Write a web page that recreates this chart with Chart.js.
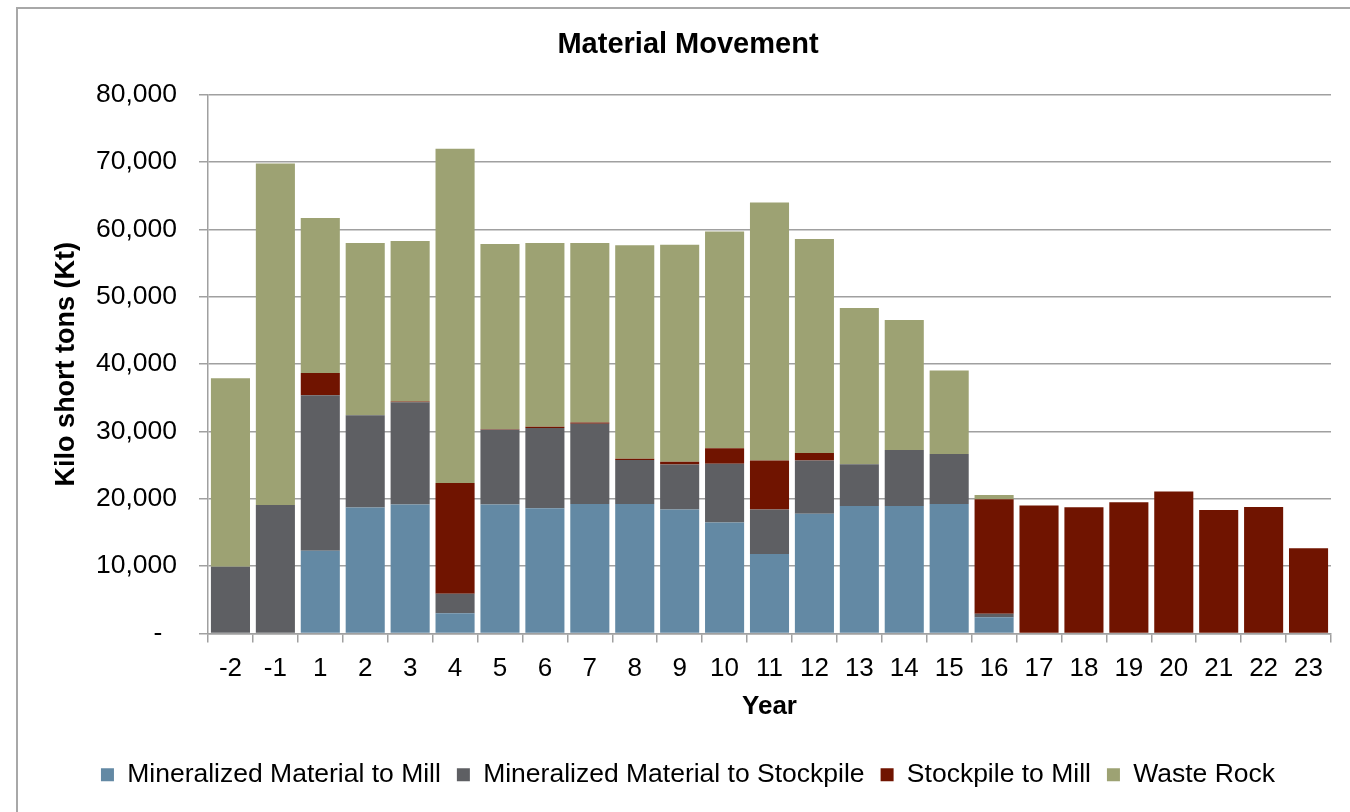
<!DOCTYPE html>
<html>
<head>
<meta charset="utf-8">
<title>Material Movement</title>
<script src="https://cdn.jsdelivr.net/npm/chart.js@4"></script>
<style>
  html, body { margin: 0; padding: 0; background: #fff; overflow: hidden; }
  #frame {
    position: absolute; left: 16px; top: 7px;
    width: 1400px; height: 900px;
    border-top: 2px solid #a8a8a8; border-left: 2px solid #a8a8a8;
  }
  #chart { position: absolute; left: 16px; top: 7px; }
</style>
</head>
<body>
<div id="frame"></div>
<canvas id="chart" width="1344" height="805"></canvas>
<script>
// Year labels along the bottom axis
const years = ['-2', '-1', '1', '2', '3', '4', '5', '6', '7', '8', '9', '10', '11', '12',
               '13', '14', '15', '16', '17', '18', '19', '20', '21', '22', '23'];

// Tonnages per year, kilo short tons
const millFeed = [0, 0, 12300, 18700, 19150, 3000, 19150, 18600, 19250, 19250, 18400, 16500,
                  11800, 17800, 18950, 18950, 19250, 2400, 0, 0, 0, 0, 0, 0, 0];
const toStockpile = [9900, 19100, 23100, 13700, 15200, 2900, 11100, 11900, 11900, 6500, 6700, 8700,
                     6600, 7900, 6200, 8300, 7400, 550, 0, 0, 0, 0, 0, 0, 0];
const stockpileToMill = [0, 0, 3300, 0, 100, 16450, 100, 200, 200, 200, 400, 2300,
                         7300, 1100, 0, 0, 0, 17000, 19000, 18750, 19500, 21100, 18350, 18800, 12650];
const wasteRock = [28000, 50700, 23000, 25600, 23850, 49650, 27500, 27300, 26650, 31700, 32250, 32200,
                   38300, 31800, 23200, 19300, 12400, 600, 0, 0, 0, 0, 0, 0, 0];

const yMin = 0;
const yMax = 80000;
const yStep = 10000;

const FONT = "'Liberation Sans', Arial, sans-serif";
const gridGrey = '#a0a0a0';

function series(label, data, color) {
    return {
        label: label,
        data: data,
        backgroundColor: color,
        borderWidth: 0,
        barPercentage: 0.87,
        categoryPercentage: 1.0
    };
}

const ctx = document.getElementById('chart').getContext('2d');
new Chart(ctx, {
    type: 'bar',
    data: {
        labels: years,
        datasets: [
            series('Mineralized Material to Mill', millFeed, '#6389a4'),
            series('Mineralized Material to Stockpile', toStockpile, '#5e5f63'),
            series('Stockpile to Mill', stockpileToMill, '#701400'),
            series('Waste Rock', wasteRock, '#9da273')
        ]
    },
    options: {
        responsive: false,
        devicePixelRatio: 1,
        animation: false,
        events: [],
        layout: { padding: { left: 29, right: 29, top: 0, bottom: 14 } },
        plugins: {
            title: {
                display: true,
                text: 'Material Movement',
                color: '#000',
                font: { family: FONT, size: 29, weight: 'bold' },
                padding: { top: 21, bottom: 32 }
            },
            legend: {
                position: 'bottom',
                labels: {
                    color: '#000',
                    font: { family: FONT, size: 26.5 },
                    boxWidth: 13,
                    boxHeight: 13,
                    padding: 16
                }
            },
            tooltip: { enabled: false }
        },
        scales: {
            x: {
                stacked: true,
                grid: {
                    offset: true,
                    drawOnChartArea: false,
                    drawTicks: true,
                    tickLength: 9,
                    color: gridGrey,
                    lineWidth: 1.5
                },
                border: { color: gridGrey, width: 1.5 },
                ticks: {
                    color: '#000',
                    font: { family: FONT, size: 26 },
                    padding: 11,
                    maxRotation: 0,
                    autoSkip: false
                },
                title: {
                    display: true,
                    text: 'Year',
                    color: '#000',
                    font: { family: FONT, size: 26, weight: 'bold' },
                    padding: { top: 0, bottom: 23 }
                },
                afterFit: function (scale) { scale.height = 112; }
            },
            y: {
                stacked: true,
                min: yMin,
                max: yMax,
                grid: {
                    color: gridGrey,
                    lineWidth: 1.5,
                    drawTicks: true,
                    tickLength: 9
                },
                border: { color: gridGrey, width: 1.5 },
                ticks: {
                    stepSize: yStep,
                    color: '#000',
                    font: { family: FONT, size: 26.5 },
                    padding: 22,
                    callback: function (v) { return v === 0 ? '-  ' : v.toLocaleString('en-US'); }
                },
                title: {
                    display: true,
                    text: 'Kilo short tons (Kt)',
                    color: '#000',
                    font: { family: FONT, size: 27, weight: 'bold' },
                    padding: { top: 5, bottom: 0 }
                },
                afterFit: function (scale) { scale.width = 163; }
            }
        }
    }
});
</script>
</body>
</html>
